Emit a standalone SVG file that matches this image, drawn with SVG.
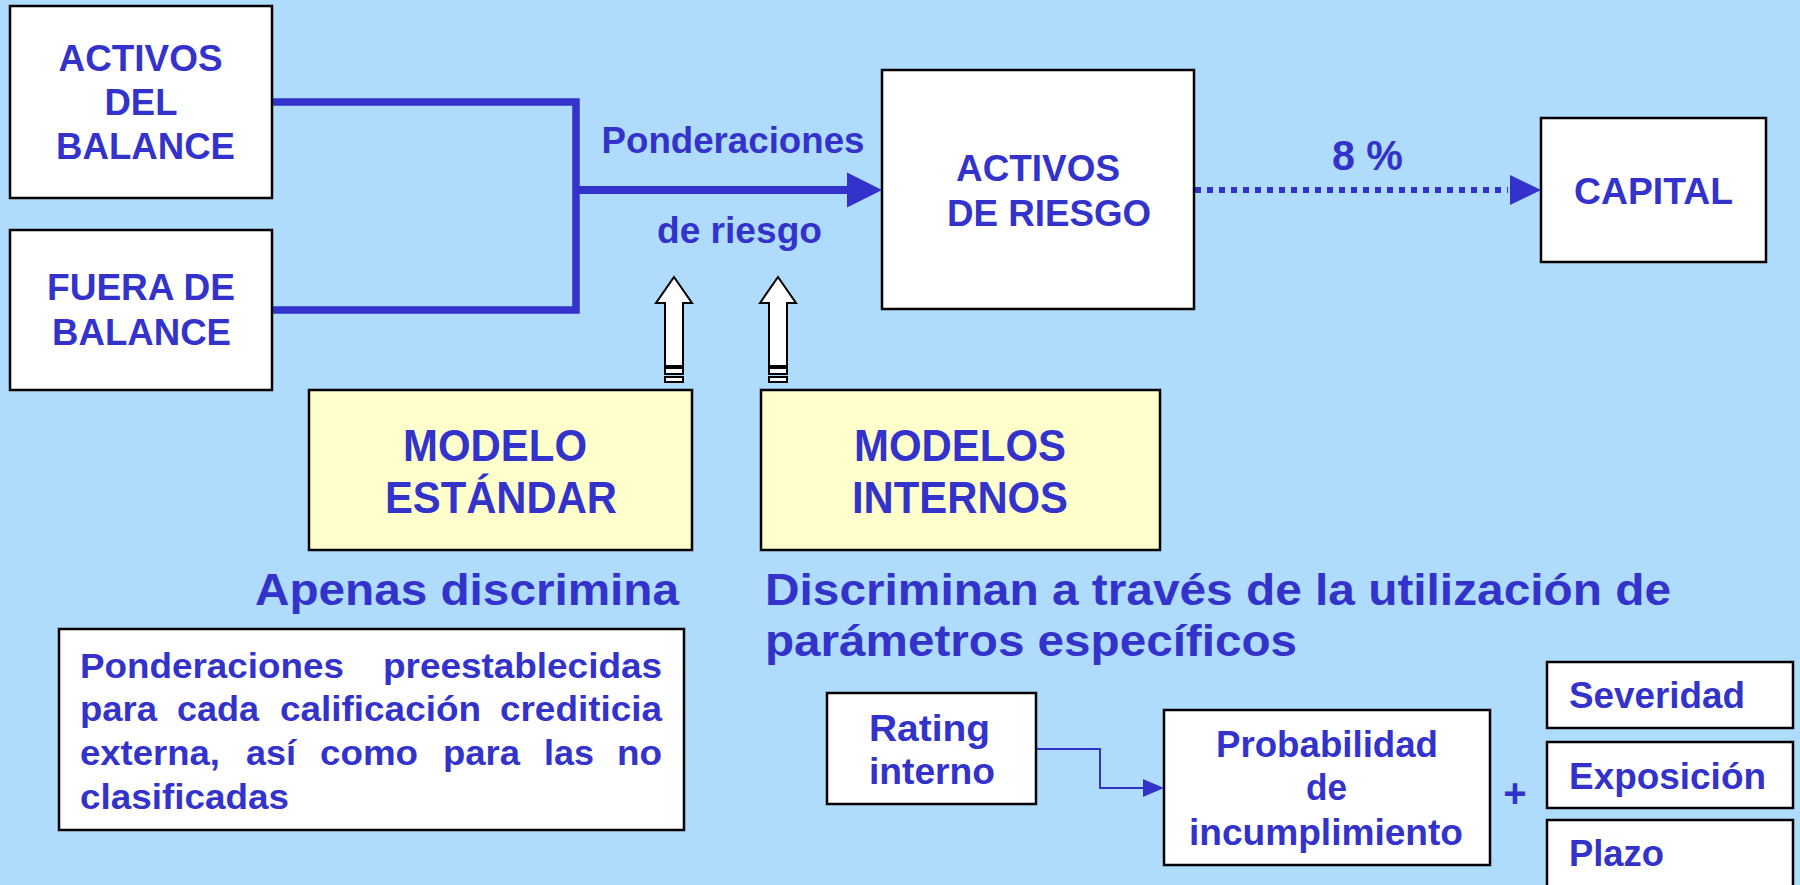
<svg xmlns="http://www.w3.org/2000/svg" width="1800" height="885" viewBox="0 0 1800 885">
<defs>
<style>
.t{font-family:"Liberation Sans",Arial,sans-serif;font-weight:bold;fill:#3333CC;}
.box{fill:#FFFFFF;stroke:#000000;stroke-width:2.5;}
.ybox{fill:#FFFFCC;stroke:#000000;stroke-width:2.5;}
.thick{fill:none;stroke:#3333CC;stroke-width:7.5;stroke-linejoin:miter;}
.hollow{fill:#FFFFFF;stroke:#000000;stroke-width:2;}
</style>
<g id="hollowArrow">
<path class="hollow" d="M0,0 L18,26 L9,26 L9,89 L-9,89 L-9,26 L-18,26 Z"/>
<rect class="hollow" x="-9" y="91" width="18" height="6"/>
<rect class="hollow" x="-9" y="100" width="18" height="5"/>
</g>
</defs>
<rect x="0" y="0" width="1800" height="885" fill="#AFDCFC"/>

<g id="connectors">
<polyline class="thick" points="271,102 576,102 576,310 271,310"/>
<line x1="576" y1="190" x2="850" y2="190" stroke="#3333CC" stroke-width="8"/>
<polygon points="847,172.5 882,190 847,207.5" fill="#3333CC"/>
<line x1="1195" y1="190" x2="1508" y2="190" stroke="#3333CC" stroke-width="6" stroke-dasharray="6 6"/>
<polygon points="1510,175 1541,190 1510,205" fill="#3333CC"/>
<polyline points="1036,749 1100,749 1100,788 1145,788" fill="none" stroke="#3333CC" stroke-width="2"/>
<polygon points="1143,779 1164,788 1143,797" fill="#3333CC"/>
<use href="#hollowArrow" x="674" y="277"/>
<use href="#hollowArrow" x="778" y="277"/>
</g>

<g id="activos-balance">
<rect class="box" x="10" y="6" width="262" height="192"/>
<text class="t" font-size="37.5" x="58.5" y="71" textLength="164" lengthAdjust="spacingAndGlyphs">ACTIVOS</text>
<text class="t" font-size="37.5" x="104.5" y="115" textLength="73" lengthAdjust="spacingAndGlyphs">DEL</text>
<text class="t" font-size="37.5" x="56" y="159" textLength="179" lengthAdjust="spacingAndGlyphs">BALANCE</text>
</g>

<g id="fuera-balance">
<rect class="box" x="10" y="230" width="262" height="160"/>
<text class="t" font-size="37.5" x="47" y="300" textLength="188" lengthAdjust="spacingAndGlyphs">FUERA DE</text>
<text class="t" font-size="37.5" x="52" y="345" textLength="179" lengthAdjust="spacingAndGlyphs">BALANCE</text>
</g>

<g id="ponderaciones-label">
<text class="t" font-size="37" x="601.5" y="153" textLength="263" lengthAdjust="spacingAndGlyphs">Ponderaciones</text>
<text class="t" font-size="37" x="657" y="243" textLength="165" lengthAdjust="spacingAndGlyphs">de riesgo</text>
</g>

<g id="activos-riesgo">
<rect class="box" x="882" y="70" width="312" height="239"/>
<text class="t" font-size="37.5" x="956" y="181" textLength="164" lengthAdjust="spacingAndGlyphs">ACTIVOS</text>
<text class="t" font-size="37.5" x="947" y="226" textLength="204" lengthAdjust="spacingAndGlyphs">DE RIESGO</text>
</g>

<g id="pct-label">
<text class="t" font-size="43" x="1332" y="170" textLength="71" lengthAdjust="spacingAndGlyphs">8 %</text>
</g>

<g id="capital">
<rect class="box" x="1541" y="118" width="225" height="144"/>
<text class="t" font-size="37.5" x="1574" y="204" textLength="159" lengthAdjust="spacingAndGlyphs">CAPITAL</text>
</g>

<g id="modelo-estandar">
<rect class="ybox" x="309" y="390" width="383" height="160"/>
<text class="t" font-size="44" x="403" y="461" textLength="184" lengthAdjust="spacingAndGlyphs">MODELO</text>
<text class="t" font-size="44" x="385" y="513" textLength="232" lengthAdjust="spacingAndGlyphs">ESTÁNDAR</text>
</g>

<g id="modelos-internos">
<rect class="ybox" x="761" y="390" width="399" height="160"/>
<text class="t" font-size="44" x="854" y="461" textLength="212" lengthAdjust="spacingAndGlyphs">MODELOS</text>
<text class="t" font-size="44" x="852" y="513" textLength="216" lengthAdjust="spacingAndGlyphs">INTERNOS</text>
</g>

<g id="heading-left">
<text class="t" font-size="44" x="255" y="605" textLength="424" lengthAdjust="spacingAndGlyphs">Apenas discrimina</text>
</g>

<g id="heading-right">
<text class="t" font-size="44" x="765" y="605" textLength="906" lengthAdjust="spacingAndGlyphs">Discriminan a través de la utilización de</text>
<text class="t" font-size="44" x="765" y="656" textLength="532" lengthAdjust="spacingAndGlyphs">parámetros específicos</text>
</g>

<g id="ponderaciones-box">
<rect class="box" x="59" y="629" width="625" height="201"/>
<text class="t" font-size="35.5" x="80" y="678" textLength="264" lengthAdjust="spacingAndGlyphs">Ponderaciones</text>
<text class="t" font-size="35.5" x="383" y="678" textLength="279" lengthAdjust="spacingAndGlyphs">preestablecidas</text>
<text class="t" font-size="35.5" x="80" y="721" textLength="77" lengthAdjust="spacingAndGlyphs">para</text>
<text class="t" font-size="35.5" x="177" y="721" textLength="82" lengthAdjust="spacingAndGlyphs">cada</text>
<text class="t" font-size="35.5" x="280" y="721" textLength="201" lengthAdjust="spacingAndGlyphs">calificación</text>
<text class="t" font-size="35.5" x="500" y="721" textLength="162" lengthAdjust="spacingAndGlyphs">crediticia</text>
<text class="t" font-size="35.5" x="80" y="765" textLength="140" lengthAdjust="spacingAndGlyphs">externa,</text>
<text class="t" font-size="35.5" x="246" y="765" textLength="50" lengthAdjust="spacingAndGlyphs">así</text>
<text class="t" font-size="35.5" x="320" y="765" textLength="98" lengthAdjust="spacingAndGlyphs">como</text>
<text class="t" font-size="35.5" x="443" y="765" textLength="77" lengthAdjust="spacingAndGlyphs">para</text>
<text class="t" font-size="35.5" x="544" y="765" textLength="50" lengthAdjust="spacingAndGlyphs">las</text>
<text class="t" font-size="35.5" x="617" y="765" textLength="45" lengthAdjust="spacingAndGlyphs">no</text>
<text class="t" font-size="35.5" x="80" y="809" textLength="209" lengthAdjust="spacingAndGlyphs">clasificadas</text>
</g>

<g id="rating-interno">
<rect class="box" x="827" y="693" width="209" height="111"/>
<text class="t" font-size="36" x="869" y="741" textLength="121" lengthAdjust="spacingAndGlyphs">Rating</text>
<text class="t" font-size="36" x="869" y="784" textLength="126" lengthAdjust="spacingAndGlyphs">interno</text>
</g>

<g id="probabilidad">
<rect class="box" x="1164" y="710" width="326" height="155"/>
<text class="t" font-size="36" x="1216" y="757" textLength="222" lengthAdjust="spacingAndGlyphs">Probabilidad</text>
<text class="t" font-size="36" x="1306" y="800" textLength="41" lengthAdjust="spacingAndGlyphs">de</text>
<text class="t" font-size="36" x="1189" y="845" textLength="274" lengthAdjust="spacingAndGlyphs">incumplimiento</text>
</g>

<g id="plus">
<text class="t" font-size="40" x="1515" y="807" text-anchor="middle">+</text>
</g>

<g id="severidad">
<rect class="box" x="1547" y="662" width="246" height="66"/>
<text class="t" font-size="36" x="1569" y="708" textLength="176" lengthAdjust="spacingAndGlyphs">Severidad</text>
</g>

<g id="exposicion">
<rect class="box" x="1547" y="742" width="246" height="66"/>
<text class="t" font-size="36" x="1569" y="789" textLength="197" lengthAdjust="spacingAndGlyphs">Exposición</text>
</g>

<g id="plazo">
<rect class="box" x="1547" y="820" width="246" height="90"/>
<text class="t" font-size="36" x="1569" y="866" textLength="95" lengthAdjust="spacingAndGlyphs">Plazo</text>
</g>
</svg>
